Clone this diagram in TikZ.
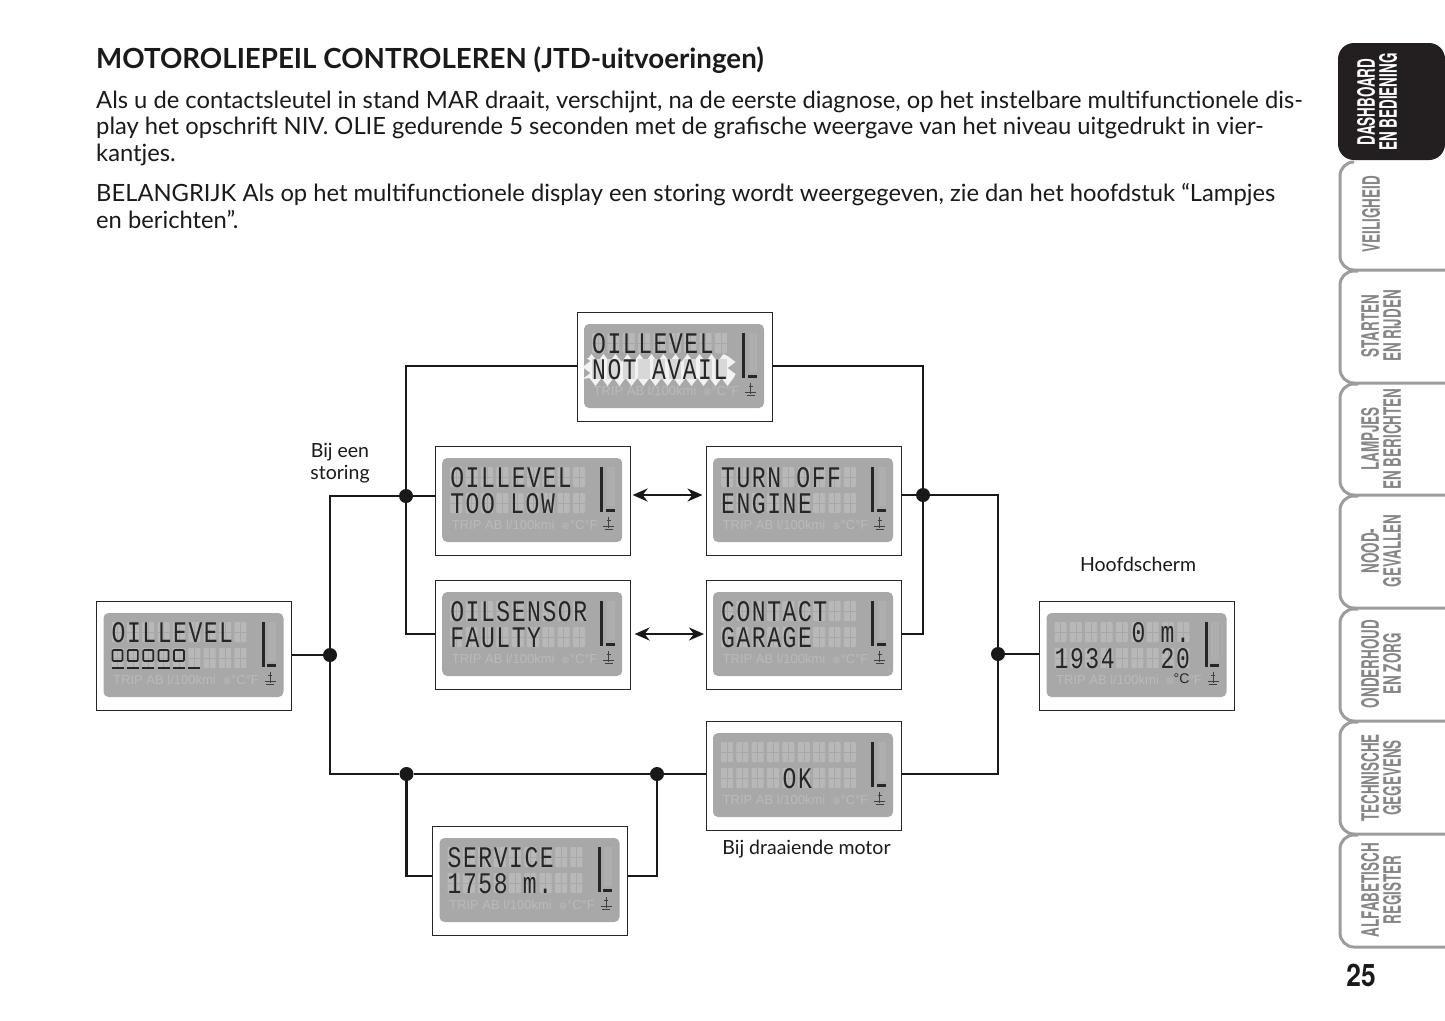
\documentclass[tikz,border=0pt]{standalone}
\usepackage{fontspec}
\setmainfont{Lato}
\newfontfamily\lcdfont[LetterSpace=6.8]{Liberation Mono}
\newfontfamily\capfont{Liberation Sans}
\newfontfamily\symfont{DejaVu Sans}
\newfontfamily\tabfont[FakeStretch=0.56]{TeX Gyre Heros Bold}
\newfontfamily\numfont[FakeStretch=0.85]{TeX Gyre Heros Bold}
\usetikzlibrary{decorations.pathmorphing,arrows.meta}
\definecolor{panelc}{HTML}{A8A8A8}
\definecolor{ghostc}{HTML}{B8B8B8}
\definecolor{footc}{HTML}{BABABA}
\definecolor{inkc}{HTML}{1A1A1A}
\definecolor{tabdark}{HTML}{231F20}
\definecolor{tabline}{HTML}{9C9C9C}
\definecolor{tabtext}{HTML}{868686}
\tikzset{
  lcdbox/.style={draw=black!85,line width=1.4pt,fill=white,anchor=north west,minimum width=195pt,minimum height=109pt,inner sep=0pt},
  lcdpanel/.style={fill=panelc,rounded corners=5pt,draw=none},
  lcdtext/.style={anchor=base west,inner sep=0pt,text=black!85,font=\fontsize{23}{26}\lcdfont},
  foot/.style={anchor=west,inner sep=0pt,text=footc,font=\fontsize{13}{14}\capfont},
  conn/.style={line width=2.5pt,draw=black!90},
  jdot/.style={circle,fill=black!90,inner sep=0pt,minimum size=14pt},
  twoway/.style={line width=2.4pt,draw=black!90,{Stealth[length=15pt,width=13pt]}-{Stealth[length=15pt,width=13pt]}},
  bodyline/.style={anchor=base west,inner sep=0pt,text=inkc,font=\fontsize{23.75}{26}\selectfont},
  notelabel/.style={inner sep=0pt,text=inkc,font=\fontsize{19.5}{22}\selectfont,align=center},
  tabedge/.style={draw=tabline,line width=3pt,rounded corners=14pt},
  tablabel/.style={rotate=90,inner sep=0pt,align=center,text=tabtext,font=\fontsize{24}{22}\tabfont},
}
\newcommand{\lcdrow}[1]{\raisebox{0pt}[20pt][0pt]{\scalebox{1}[1.3]{#1}}}
% #1 footer marks, #2 name, #3 left, #4 top, #5 row one, #6 row two
\newcommand{\lcdunit}[6][°C°F]{%
  \node[lcdbox] (#2) at (#3,#4) {};
  \begin{scope}[shift={(#3,#4)}]
    \fill[lcdpanel] (7.5,12) rectangle (187.5,96);
    \foreach \ci in {0,...,8}{\foreach \ry in {21,47}{%
      \fill[ghostc,rounded corners=1pt] ({15.5+15.36*\ci},\ry) rectangle ++(12,20);
      \draw[panelc,line width=.5pt] ({15.5+15.36*\ci},\ry+10) -- ++(12,0) ({21.5+15.36*\ci},\ry) -- ++(0,20);
    }}
    \fill[ghostc!35!panelc] (172,21) rectangle (180,60);
    \node[lcdtext] (#2-a) at (15.5,41) {\lcdrow{#5}};
    \node[lcdtext] (#2-b) at (15.5,67) {\lcdrow{#6}};
    \fill[black!85] (165.5,21) rectangle (168.5,66);
    \fill[black!85] (171,62.5) rectangle (180,66);
    \node[foot] (#2-f) at (17,79) {TRIP AB l/100kmi\hspace{7pt}{\symfont\fontsize{10}{10}\selectfont ⊛}#1};
    \draw[black!75,line width=.9pt] (174,71) -- (174,82) (172,74) -- (176,74) (168.5,80) -- (179.5,80) (170,83) -- (178,83);
  \end{scope}
}
\begin{document}
\begin{tikzpicture}[x=1pt,y=-1pt]
\useasboundingbox (0,0) rectangle (1445,1020);
\fill[white] (0,0) rectangle (1445,1020);

% headline and body
\node[anchor=base west,inner sep=0pt,text=inkc,font=\fontsize{27.7}{30}\bfseries] (title) at (96,68) {MOTOROLIEPEIL CONTROLEREN (JTD-uitvoeringen)};
\node[bodyline] (l1) at (96,108) {Als u de contactsleutel in stand MAR draait, verschijnt, na de eerste diagnose, op het instelbare multifunctionele dis-};
\node[bodyline] (l2) at (96,134.5) {play het opschrift NIV. OLIE gedurende 5 seconden met de grafische weergave van het niveau uitgedrukt in vier-};
\node[bodyline] (l3) at (96,161) {kantjes.};
\node[bodyline] (l4) at (96,201.5) {BELANGRIJK Als op het multifunctionele display een storing wordt weergegeven, zie dan het hoofdstuk “Lampjes};
\node[bodyline] (l5) at (96,228) {en berichten”.};

% side tabs
\fill[tabdark,rounded corners=16pt] (1445,43) -- (1338,43) -- (1338,160) -- (1445,160) -- cycle;
\draw[tabedge] (1352,162) -- (1340,162) -- (1340,270) -- (1445,270);
\draw[tabedge] (1358,271) -- (1340,271) -- (1340,383) -- (1445,383);
\draw[tabedge] (1358,384) -- (1340,384) -- (1340,495) -- (1445,495);
\draw[tabedge] (1358,496) -- (1340,496) -- (1340,608) -- (1445,608);
\draw[tabedge] (1358,609) -- (1340,609) -- (1340,721) -- (1445,721);
\draw[tabedge] (1358,722) -- (1340,722) -- (1340,834) -- (1445,834);
\draw[tabedge] (1358,835) -- (1340,835) -- (1340,947) -- (1445,947);
\node[tablabel,text=white] (t1) at (1377,102) {DASHBOARD\\EN BEDIENING};
\node[tablabel] (t2) at (1371,214) {VEILIGHEID};
\node[tablabel] (t3) at (1381,326) {STARTEN\\EN RIJDEN};
\node[tablabel] (t4) at (1381,439) {LAMPJES\\EN BERICHTEN};
\node[tablabel] (t5) at (1381,551) {NOOD-\\GEVALLEN};
\node[tablabel] (t6) at (1381,664) {ONDERHOUD\\EN ZORG};
\node[tablabel] (t7) at (1381,778) {TECHNISCHE\\GEGEVENS};
\node[tablabel] (t8) at (1381,890) {ALFABETISCH\\REGISTER};
\node[inner sep=0pt,text=inkc,font=\fontsize{31}{33}\numfont] (pg) at (1361,975) {25};

% displays
\lcdunit{start}{96}{601}{OILLEVEL}{}
\lcdunit{avail}{576.5}{312}{OILLEVEL}{}
\lcdunit{low}{434.7}{446}{OILLEVEL}{TOO~LOW}
\lcdunit{off}{705.5}{446}{TURN~OFF}{ENGINE}
\lcdunit{faulty}{434.7}{580}{OILSENSOR}{FAULTY}
\lcdunit{contact}{705.5}{580}{CONTACT}{GARAGE}
\lcdunit{okbox}{705.5}{721}{}{~~~~OK}
\lcdunit{service}{432}{826}{SERVICE}{1758~m.}
\lcdunit[\phantom{°C}°F]{main}{1039}{601}{~~~~~0~m.}{1934~~~20}

% bars of the first display
\begin{scope}[shift={(96,601)}]
  \foreach \ci in {0,...,4}
    \draw[black!85,line width=1.7pt,rounded corners=1pt] ({16.5+15.36*\ci},49) rectangle ++(10,11);
  \foreach \ci in {0,...,5}
    \draw[black!85,line width=1.7pt] ({15.5+15.36*\ci},67) -- ++(12,0);
\end{scope}

% flashing row
\begin{scope}[shift={(576.5,312)}]
  \fill[white!85!panelc,decorate,decoration={zigzag,segment length=12pt,amplitude=4pt}] (10,46) rectangle (155,70);
  \foreach \ci in {0,...,8}
    \fill[ghostc!55!white] ({15.5+15.36*\ci},47) rectangle ++(12,20);
  \node[lcdtext] (avail-c) at (15.5,67) {\lcdrow{NOT~AVAIL}};
\end{scope}

\node[anchor=center,inner sep=0pt,font=\fontsize{14}{15}\capfont,text=black!85] (deg) at (1181.5,679) {°C};

% connectors
\node[jdot] (j1) at (330,655) {};
\node[jdot] (j2) at (406,496) {};
\node[jdot] (j3) at (923,495) {};
\node[jdot] (j4) at (998,654) {};
\node[jdot] (j5) at (406.5,774) {};
\node[jdot] (j6) at (657,774) {};
\draw[conn] (start.east|-j1) -- (j1);
\draw[conn] (j1) |- (j2);
\draw[conn] (j2) -- (low.west|-j2);
\draw[conn] (avail.west|-0,366) -| (j2);
\draw[conn] (j2) |- (faulty.west|-0,634);
\draw[conn] (avail.east|-0,366) -| (j3);
\draw[conn] (off.east|-j3) -- (j3);
\draw[conn] (contact.east|-0,634) -| (j3);
\draw[conn] (j3) -| (j4);
\draw[conn] (j4) -- (main.west|-j4);
\draw[conn] (j1) |- (j5);
\draw[conn] (j5) -- (j6);
\draw[conn] (j6) -- (okbox.west|-j6);
\draw[conn] (okbox.east|-j6) -| (j4);
\draw[conn] (j5) |- (service.west|-0,876);
\draw[conn] (service.east|-0,876) -| (j6);
\draw[twoway] ([xshift=1.5pt]low.east|-0,495) -- ([xshift=-3pt]off.west|-0,495);
\draw[twoway] ([xshift=3.5pt]faulty.east|-0,634) -- ([xshift=-1.5pt]contact.west|-0,634);

% labels
\node[notelabel] (n1) at (340,463.5) {Bij een\\storing};
\node[notelabel] (n2) at (1138,564) {Hoofdscherm};
\node[notelabel] (n3) at (806.5,849) {Bij draaiende motor};
\end{tikzpicture}
\end{document}
